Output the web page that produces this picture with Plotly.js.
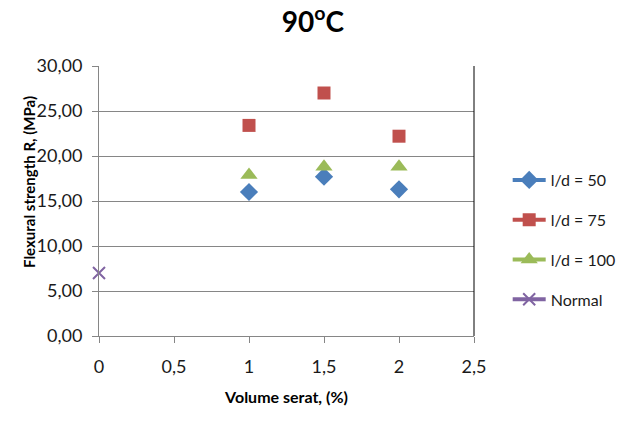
<!DOCTYPE html>
<html>
<head>
<meta charset="utf-8">
<script src="https://cdn.plot.ly/plotly-3.0.1.min.js"></script>
<style>html,body{margin:0;padding:0;background:#fff;}#chart{width:626px;height:426px;}</style>
</head>
<body>
<div id="chart"></div>
<script>
// Data
const volume = [1, 1.5, 2];
const ld50 = [16.0, 17.7, 16.3];
const ld75 = [23.4, 27.0, 22.2];
const ld100 = [17.9, 18.8, 18.8];
const normalX = [0];
const normalY = [7.0];
const seriesNames = ["l/d = 50", "l/d = 75", "l/d = 100", "Normal"];
const yTickVals = [0, 5, 10, 15, 20, 25, 30];
const xTickVals = [0, 0.5, 1, 1.5, 2, 2.5];

// interleave nulls so the legend shows a line but no line is drawn between points
function gap(arr) {
  const out = [];
  arr.forEach((v, i) => { if (i) out.push(null); out.push(v); });
  return out;
}

const FONT = "Lato, 'Open Sans', sans-serif";
function mk(name, xs, ys, color, symbol, size, lw, group) {
  return {
    type: "scatter", mode: "lines+markers", name: name,
    x: gap(xs), y: gap(ys), connectgaps: false, cliponaxis: false,
    legendgroup: group,
    line: {color: color, width: 4},
    marker: {color: color, symbol: symbol, size: size, line: {width: lw, color: color}},
    hoverinfo: "x+y"
  };
}

const traces = [
  mk(seriesNames[0], volume, ld50, "#4A7EBB", "diamond", 14, 0, "a"),
  mk(seriesNames[1], volume, ld75, "#C0504D", "square", 13, 0, "b"),
  mk(seriesNames[2], volume, ld100, "#9BBB59", "triangle-up", 15, 0, "c"),
  mk(seriesNames[3], normalX, normalY, "#8064A2", "x-thin", 12, 2, "d")
];

const layout = {
  width: 626, height: 426,
  margin: {l: 99, r: 152, t: 66, b: 90, pad: 0},
  paper_bgcolor: "#fff", plot_bgcolor: "#fff",
  separators: ",.",
  font: {family: FONT, color: "#1a1a1a"},
  title: {text: "<b>90<sup>o</sup>C</b>", font: {family: FONT, size: 28, color: "#000"},
          x: 0.5, xanchor: "center", y: 0.948, yanchor: "middle"},
  xaxis: {
    range: [0, 2.5], tickvals: xTickVals, tickformat: "",
    ticks: "outside", ticklen: 6, tickcolor: "#868686", tickwidth: 1,
    showline: true, linecolor: "#868686", linewidth: 1,
    showgrid: false, zeroline: false,
    tickfont: {family: FONT, size: 18, color: "#1a1a1a"},
    ticklabelstandoff: 8,
    title: {text: "<b>Volume serat, (%)</b>", font: {family: FONT, size: 16, color: "#000"}, standoff: 16}
  },
  yaxis: {
    range: [0, 30], tickvals: yTickVals, tickformat: ".2f",
    ticks: "outside", ticklen: 6, tickcolor: "#868686", tickwidth: 1,
    showline: true, linecolor: "#868686", linewidth: 1,
    showgrid: true, gridcolor: "#868686", gridwidth: 1,
    zeroline: false,
    tickfont: {family: FONT, size: 18, color: "#1a1a1a"},
    ticklabelstandoff: 6
  },
  showlegend: true,
  legend: {
    xref: "container", yref: "container",
    x: 0.811, xanchor: "left", y: 0.4366, yanchor: "middle",
    font: {family: FONT, size: 16, color: "#1a1a1a"},
    tracegroupgap: 16, traceorder: "grouped",
    bgcolor: "rgba(0,0,0,0)", borderwidth: 0, itemwidth: 33
  },
  shapes: [
    {type: "line", xref: "paper", yref: "paper", x0: 1, x1: 1, y0: 0, y1: 1,
     line: {color: "#000", width: 1}}
  ],
  annotations: [
    {text: "<b>Flexural strength R, (MPa)</b>", textangle: -90,
     xref: "paper", yref: "paper", x: -0.187, y: 0.57, xanchor: "center", yanchor: "middle",
     showarrow: false, font: {family: FONT, size: 15, color: "#000"}}
  ]
};

Plotly.newPlot("chart", traces, layout, {displayModeBar: false, staticPlot: true});
</script>
</body>
</html>
